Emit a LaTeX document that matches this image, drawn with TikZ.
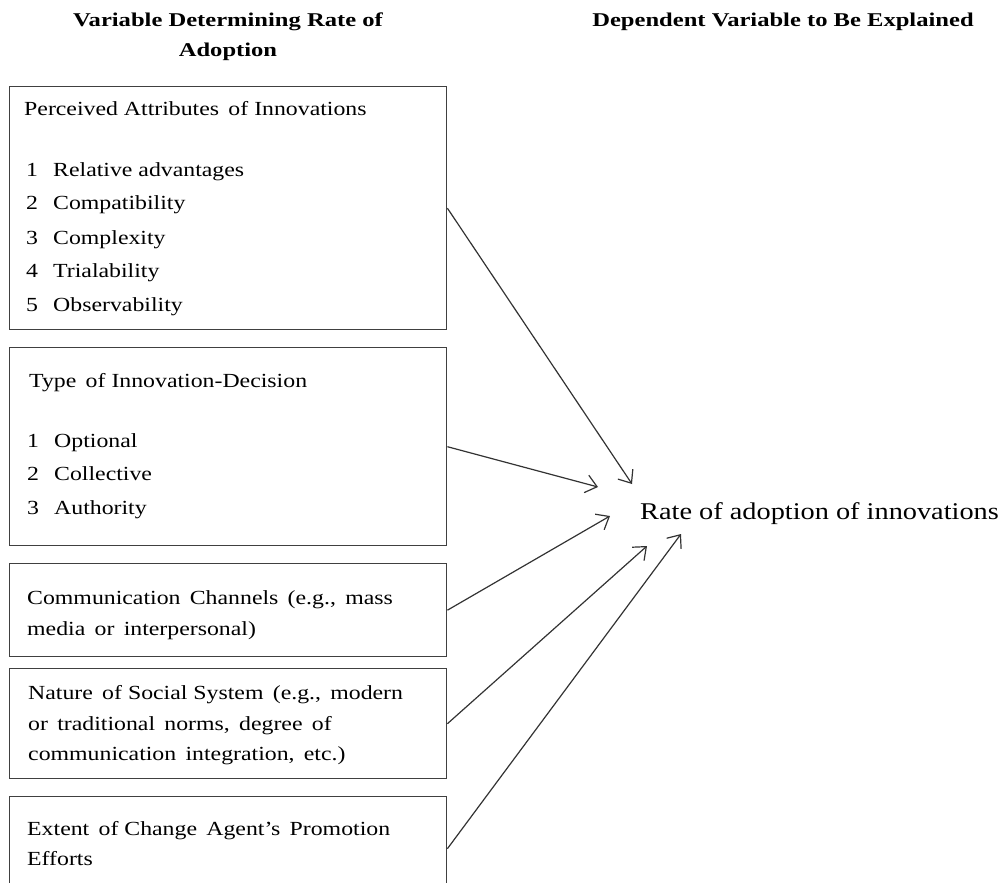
\documentclass[tikz,border=0pt]{standalone}
\usepackage{fontspec}
\setmainfont{Liberation Serif}
\newfontfamily\bodyfont[FakeStretch=1.19,Ligatures=TeX]{Liberation Serif}
\newfontfamily\ratefont[FakeStretch=1.18,Ligatures=TeX]{Liberation Serif}
\newfontfamily\headfont[FakeStretch=1.26,Ligatures=TeX]{Liberation Serif Bold}
\usetikzlibrary{arrows.meta}
\begin{document}
\begin{tikzpicture}[x=1pt,y=-1pt,
  box/.style={draw=black!75, line width=1.4pt, anchor=north west, minimum width=437pt, inner sep=0pt},
  txt/.style={anchor=base west, inner sep=0pt, font=\bodyfont\fontsize{20}{24}\selectfont},
  head/.style={anchor=base, inner sep=0pt, font=\headfont\fontsize{19.5}{24}\selectfont},
  link/.style={draw=black!80, line width=1.2pt, -{Straight Barb[length=11pt,width=18pt,line width=1.2pt]}}]
\useasboundingbox (0,0) rectangle (1007,883);
\clip (0,0) rectangle (1007,883);

% column headings
\node[head] (h1) at (228,27) {Variable Determining Rate of};
\node[head] (h2) at (228,57) {Adoption};
\node[head] (h3) at (783,27) {Dependent Variable to Be Explained};

% factor boxes
\node[box, minimum height=243pt] (b1) at (9,86) {};
\node[box, minimum height=198pt] (b2) at (9,347) {};
\node[box, minimum height=93pt] (b3) at (9,563) {};
\node[box, minimum height=110pt] (b4) at (9,668) {};
\node[box, minimum height=104pt] (b5) at (9,796) {};

% box 1 contents
\node[txt] (t1) at (24,115) {Perceived Attributes\, of Innovations};
\node[txt] (n11) at (26,176) {1}; \node[txt] (i11) at (53,176) {Relative advantages};
\node[txt] (n12) at (26,209) {2}; \node[txt] (i12) at (53,209) {Compatibility};
\node[txt] (n13) at (26,244) {3}; \node[txt] (i13) at (53,244) {Complexity};
\node[txt] (n14) at (26,277) {4}; \node[txt] (i14) at (53,277) {Trialability};
\node[txt] (n15) at (26,311) {5}; \node[txt] (i15) at (53,311) {Observability};

% box 2 contents
\node[txt] (t2) at (29,387) {Type\, of Innovation-Decision};
\node[txt] (n21) at (27,447) {1}; \node[txt] (i21) at (54,447) {Optional};
\node[txt] (n22) at (27,480) {2}; \node[txt] (i22) at (54,480) {Collective};
\node[txt] (n23) at (27,514) {3}; \node[txt] (i23) at (54,514) {Authority};

% box 3 contents
\node[txt] (t31) at (27,604) {Communication\, Channels\, (e.g.,\, mass};
\node[txt] (t32) at (27,635) {media\, or\, interpersonal)};

% box 4 contents
\node[txt] (t41) at (28,699) {Nature\, of Social System\, (e.g.,\, modern};
\node[txt] (t42) at (28,730) {or\, traditional\, norms,\, degree\, of};
\node[txt] (t43) at (28,760) {communication\, integration,\, etc.)};

% box 5 contents
\node[txt] (t51) at (27,835) {Extent\, of Change\, Agent’s\, Promotion};
\node[txt] (t52) at (27,865) {Efforts};

% outcome
\node[anchor=base west, inner sep=0pt, font=\ratefont\fontsize{24}{28}\selectfont] (rate) at (640,519) {Rate of adoption of innovations};

% arrow targets
\coordinate (e1) at (632,484);
\coordinate (e2) at (598,487);
\coordinate (e3) at (610,516);
\coordinate (e4) at (647,546);
\coordinate (e5) at (681,534);

\draw[link] (b1.east) -- (e1);
\draw[link] (b2.east) -- (e2);
\draw[link] (b3.east) -- (e3);
\draw[link] (b4.east) -- (e4);
\draw[link] (b5.east) -- (e5);
\end{tikzpicture}
\end{document}
